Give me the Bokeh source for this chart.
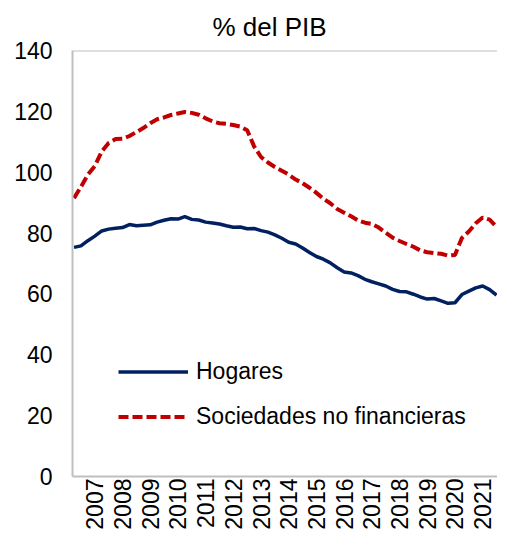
from bokeh.plotting import figure
from bokeh.models import ColumnDataSource, FixedTicker, Legend, LegendItem, Span
from bokeh.embed import file_html
from bokeh.resources import INLINE
import math

# Quarterly data, 2006-Q2 .. 2021-Q3 (% of GDP)
start_year, start_q = 2006, 2
hogares = [75.3, 75.8, 77.5, 79.0, 80.7, 81.3, 81.6, 81.8, 82.8, 82.4,
           82.6, 82.7, 83.6, 84.2, 84.7, 84.6, 85.4, 84.5, 84.3, 83.6,
           83.3, 83.0, 82.4, 81.9, 82.0, 81.4, 81.5, 80.8, 80.3, 79.4,
           78.3, 77.0, 76.4, 75.1, 73.6, 72.3, 71.4, 70.2, 68.6, 67.2,
           66.9, 66.0, 64.8, 64.0, 63.3, 62.6, 61.5, 60.8, 60.7, 59.9,
           59.0, 58.3, 58.5, 57.7, 56.9, 57.1, 59.8, 60.9, 62.0, 62.6,
           61.4, 59.6]
sociedades = [91.5, 95.2, 99.2, 102.0, 106.8, 109.6, 110.9, 111.0, 111.9, 113.2,
              114.5, 116.1, 117.4, 118.0, 118.8, 119.3, 119.8, 119.5, 118.9, 117.7,
              116.7, 116.1, 115.9, 115.5, 115.0, 113.8, 108.5, 105.0, 103.2, 101.7,
              100.5, 99.2, 97.6, 96.4, 94.9, 93.2, 91.3, 89.8, 87.9, 86.7,
              85.5, 84.2, 83.4, 83.0, 81.8, 80.1, 78.5, 77.4, 76.4, 75.5,
              74.3, 73.7, 73.4, 73.2, 72.6, 72.8, 78.4, 80.5, 83.2, 85.1,
              84.4, 82.0]
years = list(range(2007, 2022))
y_ticks = [0, 20, 40, 60, 80, 100, 120, 140]

idx = list(range(len(hogares)))
src = ColumnDataSource(dict(x=idx, hog=hogares, soc=sociedades))

# position of Q1 of each labelled year in the quarter index
def q1_index(y):
    return (y - start_year) * 4 + (1 - start_q)

tick_pos = [q1_index(y) for y in years]

FONT = "Liberation Sans"
GRAY = "#BFBFBF"

p = figure(width=497, height=532, output_backend="svg", toolbar_location=None,
           x_range=(-0.22, len(idx) - 1 + 0.14), y_range=(0, 140),
           min_border_left=72, min_border_right=0, min_border_top=50,
           min_border_bottom=55)

p.title.text = "% del PIB"
p.title.text_font = FONT
p.title.text_font_size = "26px"
p.title.text_font_style = "normal"
p.title.text_color = "#000000"
p.title.align = "left"
p.title.offset = 140
p.title.standoff = 18

r_hog = p.line("x", "hog", source=src, line_color="#002060", line_width=3.5)
r_soc = p.line("x", "soc", source=src, line_color="#C00000", line_width=4,
               line_dash="10 4")

p.add_layout(Span(location=140, dimension="width", line_color=GRAY, line_width=2))

p.grid.visible = False
p.outline_line_color = None
p.background_fill_color = "white"
p.border_fill_color = "white"

for ax in (p.xaxis[0], p.yaxis[0]):
    ax.axis_line_color = GRAY
    ax.axis_line_width = 2
    ax.major_tick_line_color = None
    ax.minor_tick_line_color = None
    ax.major_tick_out = 0
    ax.major_tick_in = 0
    ax.minor_tick_out = 0
    ax.minor_tick_in = 0
    ax.major_label_text_font = FONT
    ax.major_label_text_font_size = "23px"
    ax.major_label_text_color = "#000000"

p.yaxis[0].ticker = FixedTicker(ticks=y_ticks)
p.yaxis[0].major_label_standoff = 20

p.xaxis[0].ticker = FixedTicker(ticks=tick_pos)
p.xaxis[0].major_label_overrides = {t: str(y) for t, y in zip(tick_pos, years)}
p.xaxis[0].major_label_orientation = math.pi / 2
p.xaxis[0].major_label_standoff = 2

legend = Legend(items=[LegendItem(label="Hogares", renderers=[r_hog]),
                       LegendItem(label="Sociedades no financieras", renderers=[r_soc])],
                location=(46, 46), glyph_width=70, glyph_height=25, label_height=25,
                spacing=18, padding=0, margin=0, label_standoff=8,
                border_line_color=None, background_fill_alpha=0,
                label_text_font=FONT, label_text_font_size="23px",
                label_text_color="#000000")
p.add_layout(legend)

open("out.html", "w").write(file_html(p, INLINE))
